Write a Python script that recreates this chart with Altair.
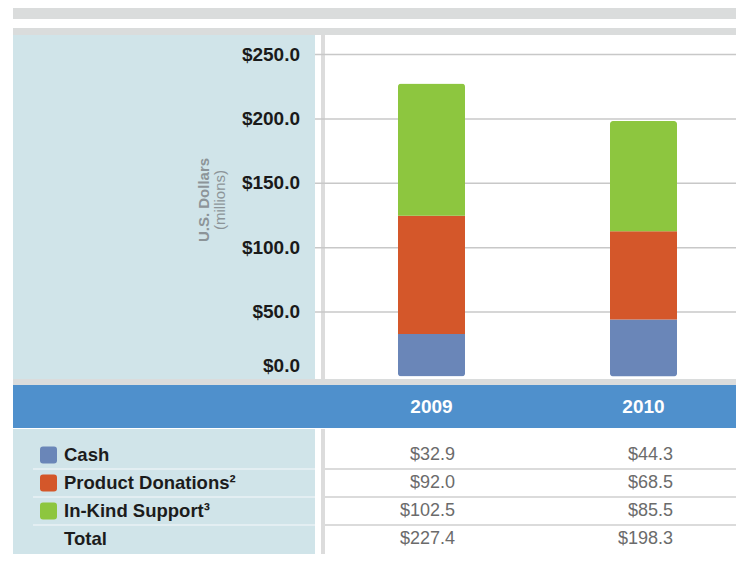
import altair as alt
import pandas as pd

# ---------------- data ----------------
years = [2009, 2010]
categories = ["Cash", "Product Donations²", "In-Kind Support³"]
cash = [32.9, 44.3]
product = [92.0, 68.5]
inkind = [102.5, 85.5]
totals = [227.4, 198.3]
y_ticks = [0, 50, 100, 150, 200, 250]
colors = ["#6a86b8", "#d4572a", "#8dc63f"]
row_names = categories + ["Total"]

FONT = "Liberation Sans, Arial, Helvetica, sans-serif"
W, H = 728, 546
OX, OY = 8, 8


def px(v):
    return v - OX


def py(v):
    return v - OY


series = [cash, product, inkind]
rows = []
for ci, (cat, vals) in enumerate(zip(categories, series)):
    for yr, v in zip(years, vals):
        rows.append({"year": yr, "category": cat, "value": v, "order": ci})
bars_df = pd.DataFrame(rows)
table_df = pd.DataFrame(
    rows + [{"year": yr, "category": "Total", "value": t, "order": 3} for yr, t in zip(years, totals)]
)
ticks_df = pd.DataFrame({"v": y_ticks})
years_df = pd.DataFrame({"year": years})
rownames_df = pd.DataFrame({"name": row_names})
swatch_df = pd.DataFrame({"name": categories})

# ---------------- scales ----------------
y_bar = alt.Scale(domain=[0, 250], range=[py(376.5), py(54.5)], nice=False, zero=False, padding=0)
x_year = alt.Scale(domain=[2009, 2010], range=[px(431.5), px(643.5)], nice=False, zero=False, padding=0)
x_val = alt.Scale(domain=[2009, 2010], range=[px(455), px(673)], nice=False, zero=False, padding=0)
row_scale = alt.Scale(type="point", domain=row_names, range=[py(455), py(539)], padding=0)
color_scale = alt.Scale(domain=categories, range=colors)

one = alt.Data(values=[{}])


def box(x1, x2, y1, y2, color):
    return alt.Chart(one).mark_rect(color=color).encode(
        x=alt.value(px(x1)), x2=alt.value(px(x2)), y=alt.value(py(y1)), y2=alt.value(py(y2))
    )


def hline(x1, x2, y, color, w=1.5):
    return alt.Chart(one).mark_rule(color=color, strokeWidth=w).encode(
        x=alt.value(px(x1)), x2=alt.value(px(x2)), y=alt.value(py(y))
    )


GRAY = "#dadcdc"
PANEL = "#d0e4e9"
BLUE = "#4f90cc"

deco = [
    box(13, 744, 0, 19, GRAY),
    box(13, 744, 28, 35, GRAY),
    box(13, 315, 35, 380, PANEL),
    box(13, 744, 379, 385, GRAY),
    box(13, 744, 385, 428, BLUE),
    box(13, 315, 429, 562, PANEL),
    box(321, 325, 35, 379, "#dcdcdc"),
    box(321, 325, 429, 562, "#dcdcdc"),
]
for yy in [469, 497, 525]:
    deco.append(hline(33, 315, yy, "#eaf2f4", 1.5))
    deco.append(hline(325, 744, yy, "#cfcfcf", 1.5))

grid = alt.Chart(ticks_df).transform_filter("datum.v > 0").mark_rule(
    color="#c8c8c8", strokeWidth=1.5
).encode(
    y=alt.Y("v:Q", scale=y_bar, axis=None),
    x=alt.value(px(315)),
    x2=alt.value(W),
)

bars = alt.Chart(bars_df).mark_bar(size=67, cornerRadius=3).encode(
    x=alt.X("year:Q", scale=x_year, axis=None),
    y=alt.Y("value:Q", stack="zero", scale=y_bar, axis=None),
    color=alt.Color("category:N", scale=color_scale, legend=None),
    order=alt.Order("order:Q", sort="ascending"),
)

tick_style = dict(align="right", baseline="middle", fontSize=19, fontWeight="bold", font=FONT, color="#1a1a1a")
tick_labels = alt.Chart(ticks_df).transform_filter("datum.v > 0").transform_calculate(
    label="'$' + format(datum.v, '.1f')"
).mark_text(**tick_style).encode(
    y=alt.Y("v:Q", scale=y_bar, axis=None), x=alt.value(px(300)), text="label:N"
)
zero_label = alt.Chart(ticks_df).transform_filter("datum.v == 0").transform_calculate(
    label="'$' + format(datum.v, '.1f')"
).mark_text(dy=-11, **tick_style).encode(
    y=alt.Y("v:Q", scale=y_bar, axis=None), x=alt.value(px(300)), text="label:N"
)

ytitle1 = alt.Chart(one).mark_text(
    angle=270, fontSize=15, fontWeight="bold", font=FONT, color="#8c9498", baseline="middle", align="center"
).encode(x=alt.value(px(204)), y=alt.value(py(200)), text=alt.value("U.S. Dollars"))
ytitle2 = alt.Chart(one).mark_text(
    angle=270, fontSize=15, font=FONT, color="#8c9498", baseline="middle", align="center"
).encode(x=alt.value(px(220)), y=alt.value(py(200)), text=alt.value("(millions)"))

year_text = alt.Chart(years_df).transform_calculate(lbl="'' + datum.year").mark_text(
    fontSize=19, fontWeight="bold", font=FONT, color="white", baseline="middle", align="center"
).encode(x=alt.X("year:Q", scale=x_year, axis=None), y=alt.value(py(407)), text="lbl:N")

SWATCH = "M-0.65,-1 L0.65,-1 Q1,-1 1,-0.65 L1,0.65 Q1,1 0.65,1 L-0.65,1 Q-1,1 -1,0.65 L-1,-0.65 Q-1,-1 -0.65,-1 Z"
swatches = alt.Chart(swatch_df).mark_point(shape=SWATCH, filled=True, size=289, opacity=1).encode(
    y=alt.Y("name:N", scale=row_scale, axis=None),
    x=alt.value(px(48.5)),
    color=alt.Color("name:N", scale=color_scale, legend=None),
)

row_labels = alt.Chart(rownames_df).mark_text(
    align="left", baseline="middle", fontSize=18.5, fontWeight="bold", font=FONT, color="#1c1c1c"
).encode(y=alt.Y("name:N", scale=row_scale, axis=None), x=alt.value(px(64)), text="name:N")

values_text = alt.Chart(table_df).transform_calculate(
    label="'$' + format(datum.value, '.1f')"
).mark_text(
    align="right", baseline="middle", fontSize=18, font=FONT, color="#6b6b6b"
).encode(
    x=alt.X("year:Q", scale=x_val, axis=None),
    y=alt.Y("category:N", scale=row_scale, axis=None),
    text="label:N",
)

chart = alt.layer(
    *deco, grid, bars, tick_labels, zero_label, ytitle1, ytitle2, year_text,
    swatches, row_labels, values_text
).resolve_scale(
    x="independent", y="independent", color="independent"
).properties(
    width=W, height=H, autosize=alt.AutoSizeParams(type="none"), padding=0, background="white"
).configure_view(stroke=None)

chart.save("out.html", embed_options={"renderer": "svg", "actions": False})
